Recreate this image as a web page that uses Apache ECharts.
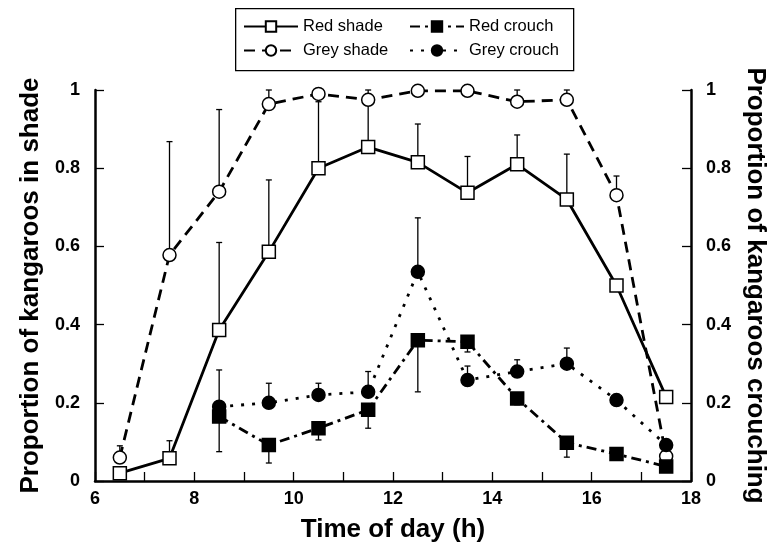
<!DOCTYPE html>
<html>
<head>
<meta charset="utf-8">
<script src="https://cdn.jsdelivr.net/npm/echarts@6/dist/echarts.min.js"></script>
<style>
  html, body { margin: 0; padding: 0; background: #fff; }
  #chart { width: 784px; height: 550px; }
</style>
</head>
<body>
<div id="chart"></div>
<script>
// time of day (h), midpoints of each hour
var hours = [6.5, 7.5, 8.5, 9.5, 10.5, 11.5, 12.5, 13.5, 14.5, 15.5, 16.5, 17.5];

// proportions
var redShade    = [0.02, 0.058, 0.386, 0.586, 0.80, 0.854, 0.815, 0.737, 0.81, 0.72, 0.50, 0.215];
var greyShade   = [0.06, 0.578, 0.74, 0.964, 0.99, 0.975, 0.998, 0.998, 0.97, 0.975, 0.731, 0.063];
var redCrouch   = [null, null, 0.165, 0.092, 0.135, 0.182, 0.36, 0.356, 0.211, 0.098, 0.069, 0.037];
var greyCrouch  = [null, null, 0.19, 0.20, 0.22, 0.228, 0.535, 0.258, 0.28, 0.30, 0.207, 0.092];

// end points of the one-sided error bars
var redShadeErr   = [null, 0.103, 0.61, 0.77, 0.97, 0.98, 0.913, 0.83, 0.885, 0.836, null, null];
var greyShadeErr  = [0.09, 0.868, 0.95, 1.0, null, 1.0, null, null, 1.0, 1.0, 0.78, null];
var redCrouchErr  = [null, null, 0.075, 0.046, 0.105, 0.135, 0.228, 0.33, 0.195, 0.061, null, null];
var greyCrouchErr = [null, null, 0.284, 0.25, 0.25, 0.28, 0.673, 0.294, 0.31, 0.34, null, null];

var yTicks = [0, 0.2, 0.4, 0.6, 0.8, 1];

var FONT = '"Liberation Sans", Arial, Helvetica, sans-serif';

function pairs(vals) {
    var out = [];
    hours.forEach(function (h, i) {
        if (vals[i] != null) out.push([h, vals[i]]);
    });
    return out;
}

function errPairs(vals, ends) {
    var out = [];
    hours.forEach(function (h, i) {
        if (vals[i] != null && ends[i] != null) out.push([h, vals[i], ends[i]]);
    });
    return out;
}

function renderErr(params, api) {
    var p0 = api.coord([api.value(0), api.value(1)]);
    var p1 = api.coord([api.value(0), api.value(2)]);
    var st = { stroke: '#000', lineWidth: 1.3 };
    return {
        type: 'group',
        children: [
            { type: 'line', shape: { x1: p0[0], y1: p0[1], x2: p1[0], y2: p1[1] }, style: st },
            { type: 'line', shape: { x1: p1[0] - 3, y1: p1[1], x2: p1[0] + 3, y2: p1[1] }, style: st }
        ]
    };
}

function errSeries(vals, ends, yIdx) {
    return {
        type: 'custom',
        name: 'err',
        yAxisIndex: yIdx,
        renderItem: renderErr,
        data: errPairs(vals, ends),
        z: 1,
        silent: true
    };
}

function lineSeries(name, vals, yIdx, symbol, fill, size, dash) {
    return {
        type: 'line',
        name: name,
        yAxisIndex: yIdx,
        data: pairs(vals),
        symbol: symbol,
        symbolSize: size,
        showAllSymbol: true,
        itemStyle: { color: fill, borderColor: '#000', borderWidth: 1.5 },
        lineStyle: { color: '#000', width: 2.8, type: dash },
        z: 3,
        animation: false
    };
}

var yLabel = {
    fontFamily: FONT, fontWeight: 'bold', fontSize: 18, color: '#000',
    formatter: function (v) { return yTicks.indexOf(+v.toFixed(1)) >= 0 ? String(+v.toFixed(1)) : ''; }
};

function yAxis(pos, title, rot) {
    return {
        type: 'value', position: pos, min: 0, max: 1, interval: 0.2,
        name: title, nameLocation: 'middle', nameRotate: rot, nameGap: 51,
        nameTextStyle: { fontFamily: FONT, fontWeight: 'bold', fontSize: 26, color: '#000' },
        axisLine: { show: true, lineStyle: { color: '#000', width: 2.5 } },
        axisTick: { show: true, inside: true, length: 9, lineStyle: { color: '#000', width: 1.3 } },
        axisLabel: Object.assign({ margin: 15 }, yLabel),
        splitLine: { show: false }
    };
}

var legendText = { fontFamily: FONT, fontSize: 16.5, color: '#000' };

var chart = echarts.init(document.getElementById('chart'), null, { renderer: 'canvas' });
chart.setOption({
    backgroundColor: '#fff',
    animation: false,
    grid: { left: 95, right: 93, top: 90, bottom: 69 },
    legend: [
        {
            data: ['Red shade', 'Grey shade'], orient: 'vertical', left: 243, top: 18,
            itemWidth: 54, itemHeight: 13, itemGap: 7, padding: 0, textStyle: legendText,
            selectedMode: false
        },
        {
            data: ['Red crouch', 'Grey crouch'], orient: 'vertical', left: 409, top: 18,
            itemWidth: 54, itemHeight: 13, itemGap: 7, padding: 0, textStyle: legendText,
            selectedMode: false
        }
    ],
    graphic: [{
        type: 'rect', left: 235, top: 8, z: 10, silent: true,
        shape: { width: 338, height: 62 },
        style: { fill: 'transparent', stroke: '#000', lineWidth: 1.3 }
    }],
    xAxis: {
        type: 'value', min: 6, max: 18, interval: 2,
        name: 'Time of day (h)', nameLocation: 'middle', nameGap: 36,
        nameTextStyle: { fontFamily: FONT, fontWeight: 'bold', fontSize: 26, color: '#000' },
        axisLine: { show: true, lineStyle: { color: '#000', width: 2.5 } },
        axisTick: { show: true, inside: true, length: 9, lineStyle: { color: '#000', width: 1.3 } },
        minorTick: { show: true, splitNumber: 2, length: 9, lineStyle: { color: '#000', width: 1.3 } },
        axisLabel: { fontFamily: FONT, fontWeight: 'bold', fontSize: 18, color: '#000', margin: 9 },
        splitLine: { show: false }
    },
    yAxis: [
        yAxis('left', 'Proportion of kangaroos in shade', 90),
        yAxis('right', 'Proportion of kangaroos crouching', -90)
    ],
    series: [
        errSeries(redShade, redShadeErr, 0),
        errSeries(greyShade, greyShadeErr, 0),
        errSeries(redCrouch, redCrouchErr, 1),
        errSeries(greyCrouch, greyCrouchErr, 1),
        lineSeries('Red shade', redShade, 0, 'rect', '#fff', 13, 'solid'),
        lineSeries('Grey shade', greyShade, 0, 'circle', '#fff', 13, [11, 7]),
        lineSeries('Red crouch', redCrouch, 1, 'rect', '#000', 13, [10, 5, 3, 5]),
        lineSeries('Grey crouch', greyCrouch, 1, 'circle', '#000', 13, [3, 8])
    ]
});
</script>
</body>
</html>
